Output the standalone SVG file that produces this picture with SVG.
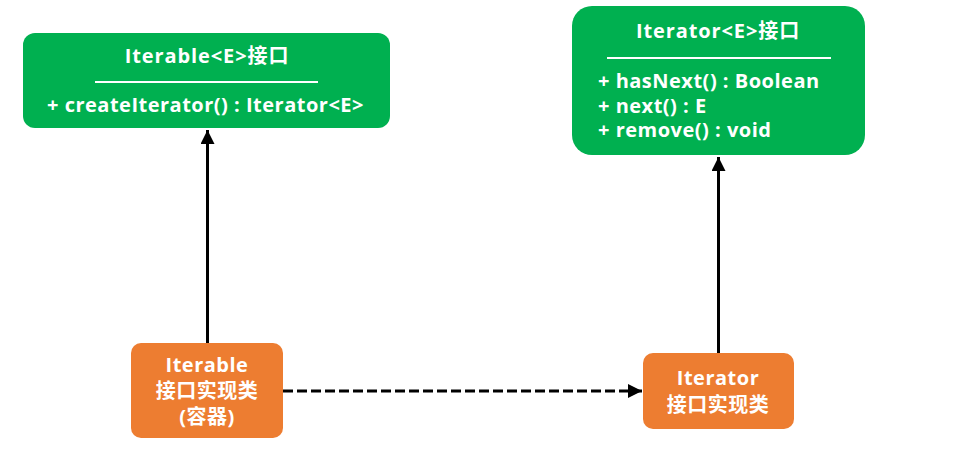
<svg xmlns="http://www.w3.org/2000/svg" width="977" height="451" viewBox="0 0 977 451">
<style>
.g{fill:#00B050}
.o{fill:#ED7D31}
text{font-family:"Open Sans","Noto Sans CJK SC",sans-serif;font-weight:bold;font-size:20px;fill:#FFFFFF;letter-spacing:0.5px}
.c{text-anchor:middle}
.t{letter-spacing:0.9px}
.sep{stroke:#FFFFFF;stroke-width:2}
.ln{stroke:#000000;stroke-width:3;fill:none}
</style>
<defs>
<marker id="ah" viewBox="0 0 10 10" refX="10" refY="5" markerWidth="14" markerHeight="14" markerUnits="userSpaceOnUse" orient="auto">
<path d="M0,0 L10,5 L0,10 z" fill="#000000"/>
</marker>
</defs>
<rect width="977" height="451" fill="#FFFFFF"/>
<g id="connectors">
<line class="ln" x1="207.5" y1="343" x2="207.5" y2="130" marker-end="url(#ah)"/>
<line class="ln" x1="718.5" y1="353" x2="718.5" y2="157" marker-end="url(#ah)"/>
<line class="ln" x1="283" y1="391" x2="642" y2="391" stroke-dasharray="10,4" marker-end="url(#ah)"/>
</g>
<g id="iterable-interface">
<rect class="g" x="23" y="33" width="367" height="95" rx="12"/>
<text class="c t" x="207" y="63">Iterable&lt;E&gt;接口</text>
<line class="sep" x1="95" y1="82" x2="318" y2="82"/>
<text x="47" y="112">+ createIterator() : Iterator&lt;E&gt;</text>
</g>
<g id="iterator-interface">
<rect class="g" x="572" y="6" width="293" height="149" rx="20"/>
<text class="c t" x="718" y="38">Iterator&lt;E&gt;接口</text>
<line class="sep" x1="607" y1="58" x2="831" y2="58"/>
<text x="598" y="88">+ hasNext() : Boolean</text>
<text x="598" y="113">+ next() : E</text>
<text x="598" y="137">+ remove() : void</text>
</g>
<g id="iterable-impl">
<rect class="o" x="131" y="343" width="152" height="95" rx="10"/>
<text class="c" x="207" y="372">Iterable</text>
<text class="c" x="207" y="398">接口实现类</text>
<text class="c" x="207" y="424">(容器)</text>
</g>
<g id="iterator-impl">
<rect class="o" x="643" y="353" width="151" height="76" rx="10"/>
<text class="c" x="718" y="385">Iterator</text>
<text class="c" x="718" y="412">接口实现类</text>
</g>
</svg>
